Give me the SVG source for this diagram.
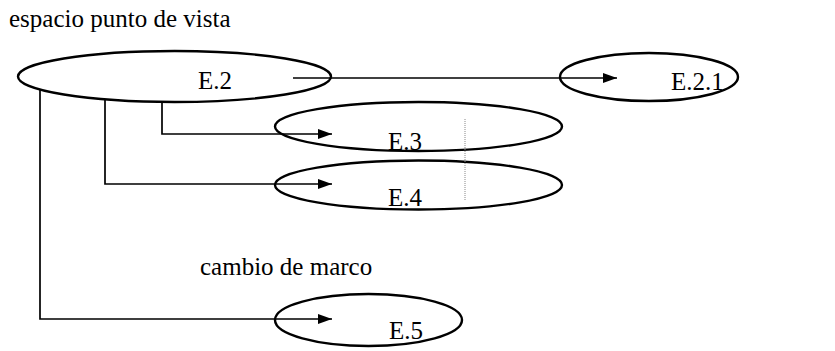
<svg xmlns="http://www.w3.org/2000/svg" width="835" height="351" viewBox="0 0 835 351">
<defs>
<style>
.lbl{font-family:"Liberation Serif","Times New Roman",serif;font-size:25px;fill:#000}
.node ellipse{fill:none;stroke:#000;stroke-width:2.4}
.conn{fill:none;stroke:#000;stroke-width:1.7}
</style>
<marker id="ah" viewBox="0 0 14 10" refX="14" refY="5" markerWidth="14" markerHeight="10" markerUnits="userSpaceOnUse" orient="auto">
<path d="M0,0 L14,5 L0,10 z" fill="#000"/>
</marker>
</defs>
<rect width="835" height="351" fill="#fff"/>
<text class="lbl" x="9" y="27">espacio punto de vista</text>
<text class="lbl" x="200" y="275">cambio de marco</text>
<g id="E2" class="node"><ellipse cx="174.5" cy="76.5" rx="156.5" ry="25.5"/><text class="lbl" x="198" y="89">E.2</text></g>
<g id="E21" class="node"><ellipse cx="649" cy="77" rx="89" ry="24"/><text class="lbl" x="671" y="90">E.2.1</text></g>
<g id="E3" class="node"><ellipse cx="418.5" cy="126.5" rx="143.5" ry="24.5"/><text class="lbl" x="388" y="150">E.3</text></g>
<g id="E4" class="node"><ellipse cx="418.5" cy="185" rx="143.5" ry="24.5"/><text class="lbl" x="388" y="206">E.4</text></g>
<g id="E5" class="node"><ellipse cx="368.5" cy="320" rx="93.5" ry="26"/><text class="lbl" x="389" y="339">E.5</text></g>
<g id="connectors">
<path class="conn" d="M293,78 H617" marker-end="url(#ah)"/>
<path class="conn" d="M162,102 V134 H332" marker-end="url(#ah)"/>
<path class="conn" d="M105,99 V184 H332" marker-end="url(#ah)"/>
<path class="conn" d="M40,89 V319 H332" marker-end="url(#ah)"/>
<line x1="465" y1="119" x2="465" y2="200" stroke="#888" stroke-width="1" stroke-dasharray="1,1"/>
</g>
</svg>
